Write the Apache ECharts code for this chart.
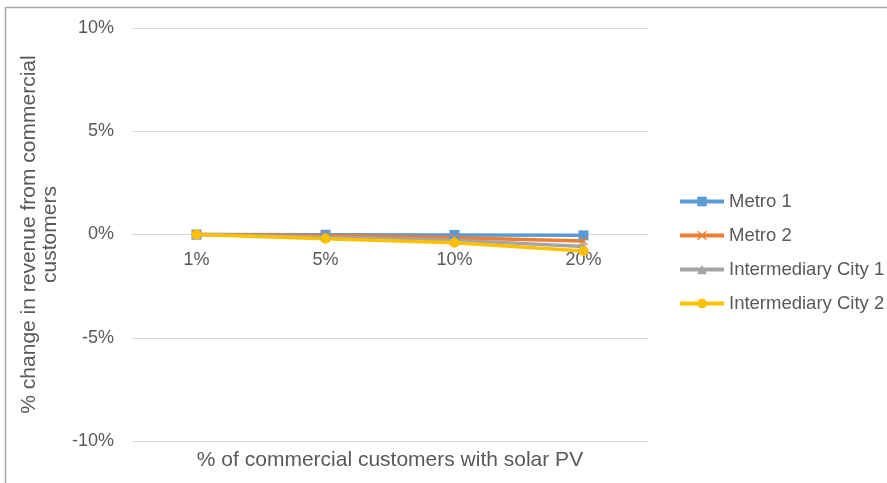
<!DOCTYPE html>
<html>
<head>
<meta charset="utf-8">
<script src="https://cdn.jsdelivr.net/npm/echarts@6/dist/echarts.min.js"></script>
<style>
  html, body { margin: 0; padding: 0; background: #fff; }
  #chart { width: 887px; height: 483px; }
</style>
</head>
<body>
<div id="chart"></div>
<script>
// share of commercial customers with PV
const categories = ['1%', '5%', '10%', '20%'];

// % change in revenue
const metro1 = [0, -0.01, -0.02, -0.04];
const metro2 = [0, -0.05, -0.16, -0.32];
const interCity1 = [0, -0.12, -0.28, -0.58];
const interCity2 = [0, -0.2, -0.4, -0.8];

const seriesNames = ['Metro 1', 'Metro 2', 'Intermediary City 1', 'Intermediary City 2'];
const colors = ['#5B9BD5', '#ED7D31', '#A5A5A5', '#FFC000'];
const xMark = 'path://M0,1 L1,0 L5,4 L9,0 L10,1 L6,5 L10,9 L9,10 L5,6 L1,10 L0,9 L4,5 Z';
const symbols = ['rect', xMark, 'triangle', 'circle'];
const allData = [metro1, metro2, interCity1, interCity2];

const txt = '#595959';
const font = 'Liberation Sans, Arial, sans-serif';

// plot box (px)
const gridTop = 28, gridBottom = 42;
const plotH = 483 - gridTop - gridBottom;

const chart = echarts.init(document.getElementById('chart'));
chart.setOption({
    animation: false,
    textStyle: { fontFamily: font },
    graphic: [{
        type: 'rect',
        shape: { x: 5.5, y: 7.5, width: 900, height: 500 },
        style: { fill: 'none', stroke: '#a6a6a6', lineWidth: 1.5 },
        silent: true
    }],
    grid: { left: 132, right: 239, top: gridTop, bottom: gridBottom, containLabel: false, outerBoundsMode: 'none' },
    legend: {
        orient: 'vertical',
        left: 678,
        top: 192,
        padding: 0,
        itemWidth: 44,
        itemHeight: 12,
        itemGap: 15,
        lineStyle: { width: 4 },
        textStyle: { color: txt, fontSize: 18.5, fontFamily: font },
        data: seriesNames
    },
    xAxis: {
        type: 'category',
        data: categories,
        boundaryGap: true,
        // category axis crosses the value axis at 0 (middle of the plot)
        offset: -plotH / 2,
        axisLine: { show: true, onZero: false, lineStyle: { color: '#d9d9d9' } },
        axisTick: { show: false },
        axisLabel: { color: txt, fontSize: 18, margin: 17 },
        name: '% of commercial customers with solar PV',
        nameLocation: 'middle',
        nameGap: 215,
        nameTextStyle: { color: txt, fontSize: 21 }
    },
    yAxis: {
        type: 'value',
        min: -10,
        max: 10,
        interval: 5,
        axisLabel: { color: txt, fontSize: 18, formatter: '{value}%', margin: 18 },
        axisLine: { show: false },
        axisTick: { show: false },
        splitLine: { lineStyle: { color: '#d9d9d9' } },
        name: '% change in revenue from commercial\ncustomers',
        nameLocation: 'middle',
        nameRotate: 90,
        nameGap: 71,
        nameTextStyle: { color: txt, fontSize: 21, lineHeight: 21 }
    },
    series: allData.map((d, i) => ({
        name: seriesNames[i],
        type: 'line',
        data: d,
        symbol: symbols[i],
        symbolSize: i === 1 ? 9 : 10,
        lineStyle: { width: 3.5, color: colors[i] },
        itemStyle: { color: colors[i] }
    }))
});
</script>
</body>
</html>
